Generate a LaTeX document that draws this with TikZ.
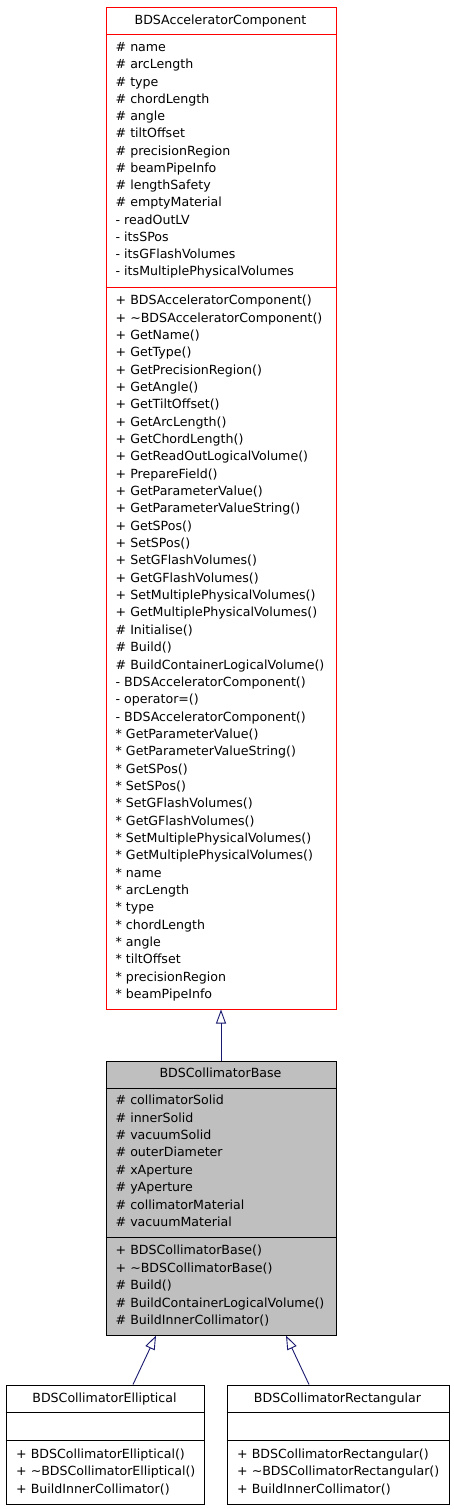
\documentclass[tikz,border=0pt]{standalone}
\usepackage{fontspec}
\setmainfont{DejaVu Sans}
\usetikzlibrary{arrows.meta}
\definecolor{edgecol}{HTML}{191970}
\definecolor{basefill}{HTML}{BFBFBF}
\definecolor{clsred}{HTML}{FF0000}
\tikzset{
  clsbox/.style={draw, line width=1pt, inner sep=0pt, anchor=north west},
  txt/.style={inner sep=0pt, anchor=west, text height=0.73em, text depth=0pt, font=\fontsize{12.6}{15}\selectfont},
  ttl/.style={txt, anchor=center},
  inh/.style={draw=edgecol, line width=0.9pt, -{Triangle[open, length=14pt, width=10pt]}}
}
\begin{document}
\begin{tikzpicture}[x=1pt,y=-1pt]
\useasboundingbox (0,0) rectangle (453,1509);
% ---------- BDSAcceleratorComponent ----------
\node[clsbox, draw=clsred, fill=white, minimum width=230pt, minimum height=1001pt] (acc) at (105.5,7.5) {};
\draw[draw=clsred, line width=1pt] ([yshift=-27pt]acc.north west) -- ([yshift=-27pt]acc.north east);
\draw[draw=clsred, line width=1pt] ([yshift=-280pt]acc.north west) -- ([yshift=-280pt]acc.north east);
\node[ttl] (acct) at (220.5,20.5) {BDSAcceleratorComponent};
\foreach \t [count=\i] in {\# name,\# arcLength,\# type,\# chordLength,\# angle,\# tiltOffset,\# precisionRegion,\# beamPipeInfo,\# lengthSafety,\# emptyMaterial,- readOutLV,- itsSPos,- itsGFlashVolumes,- itsMultiplePhysicalVolumes}
  {\node[txt] (acca\i) at (115.5,{48+(\i-1)*17.25}) {\t};}
\foreach \t [count=\i] in {+ BDSAcceleratorComponent(),+ \textasciitilde BDSAcceleratorComponent(),+ GetName(),+ GetType(),+ GetPrecisionRegion(),+ GetAngle(),+ GetTiltOffset(),+ GetArcLength(),+ GetChordLength(),+ GetReadOutLogicalVolume(),+ PrepareField(),+ GetParameterValue(),+ GetParameterValueString(),+ GetSPos(),+ SetSPos(),+ SetGFlashVolumes(),+ GetGFlashVolumes(),+ SetMultiplePhysicalVolumes(),+ GetMultiplePhysicalVolumes(),\# Initialise(),\# Build(),\# BuildContainerLogicalVolume(),- BDSAcceleratorComponent(),- operator=(),- BDSAcceleratorComponent(),* GetParameterValue(),* GetParameterValueString(),* GetSPos(),* SetSPos(),* SetGFlashVolumes(),* GetGFlashVolumes(),* SetMultiplePhysicalVolumes(),* GetMultiplePhysicalVolumes(),* name,* arcLength,* type,* chordLength,* angle,* tiltOffset,* precisionRegion,* beamPipeInfo}
  {\node[txt] (accm\i) at (115.5,{301+(\i-1)*17.35}) {\t};}
% ---------- BDSCollimatorBase ----------
\node[clsbox, fill=basefill, minimum width=230pt, minimum height=274pt] (base) at (105.5,1060.5) {};
\draw[line width=1pt] ([yshift=-28pt]base.north west) -- ([yshift=-28pt]base.north east);
\draw[line width=1pt] ([yshift=-177pt]base.north west) -- ([yshift=-177pt]base.north east);
\node[ttl] (baset) at (220.5,1073.5) {BDSCollimatorBase};
\foreach \t [count=\i] in {\# collimatorSolid,\# innerSolid,\# vacuumSolid,\# outerDiameter,\# xAperture,\# yAperture,\# collimatorMaterial,\# vacuumMaterial}
  {\node[txt] (basea\i) at (115.5,{1101+(\i-1)*17.43}) {\t};}
\foreach \t [count=\i] in {+ BDSCollimatorBase(),+ \textasciitilde BDSCollimatorBase(),\# Build(),\# BuildContainerLogicalVolume(),\# BuildInnerCollimator()}
  {\node[txt] (basem\i) at (115.5,{1251+(\i-1)*17.5}) {\t};}
% ---------- BDSCollimatorElliptical ----------
\node[clsbox, fill=white, minimum width=198pt, minimum height=119pt] (ell) at (5.5,1384.5) {};
\draw[line width=1pt] ([yshift=-28pt]ell.north west) -- ([yshift=-28pt]ell.north east);
\draw[line width=1pt] ([yshift=-56pt]ell.north west) -- ([yshift=-56pt]ell.north east);
\node[ttl] (ellt) at (104.5,1398.5) {BDSCollimatorElliptical};
\foreach \t [count=\i] in {+ BDSCollimatorElliptical(),+ \textasciitilde BDSCollimatorElliptical(),+ BuildInnerCollimator()}
  {\node[txt] (ellm\i) at (16,{1455+(\i-1)*17.3}) {\t};}
% ---------- BDSCollimatorRectangular ----------
\node[clsbox, fill=white, minimum width=222pt, minimum height=119pt] (rect) at (226.5,1384.5) {};
\draw[line width=1pt] ([yshift=-28pt]rect.north west) -- ([yshift=-28pt]rect.north east);
\draw[line width=1pt] ([yshift=-56pt]rect.north west) -- ([yshift=-56pt]rect.north east);
\node[ttl] (rectt) at (337.5,1398.5) {BDSCollimatorRectangular};
\foreach \t [count=\i] in {+ BDSCollimatorRectangular(),+ \textasciitilde BDSCollimatorRectangular(),+ BuildInnerCollimator()}
  {\node[txt] (rectm\i) at (237,{1455+(\i-1)*17.3}) {\t};}
% ---------- inheritance ----------
\draw[inh] (base.north) -- (acc.south);
\draw[inh] ([xshift=28pt]ell.north) -- ([xshift=-65pt]base.south);
\draw[inh] ([xshift=-29pt]rect.north) -- ([xshift=65pt]base.south);
\end{tikzpicture}
\end{document}
